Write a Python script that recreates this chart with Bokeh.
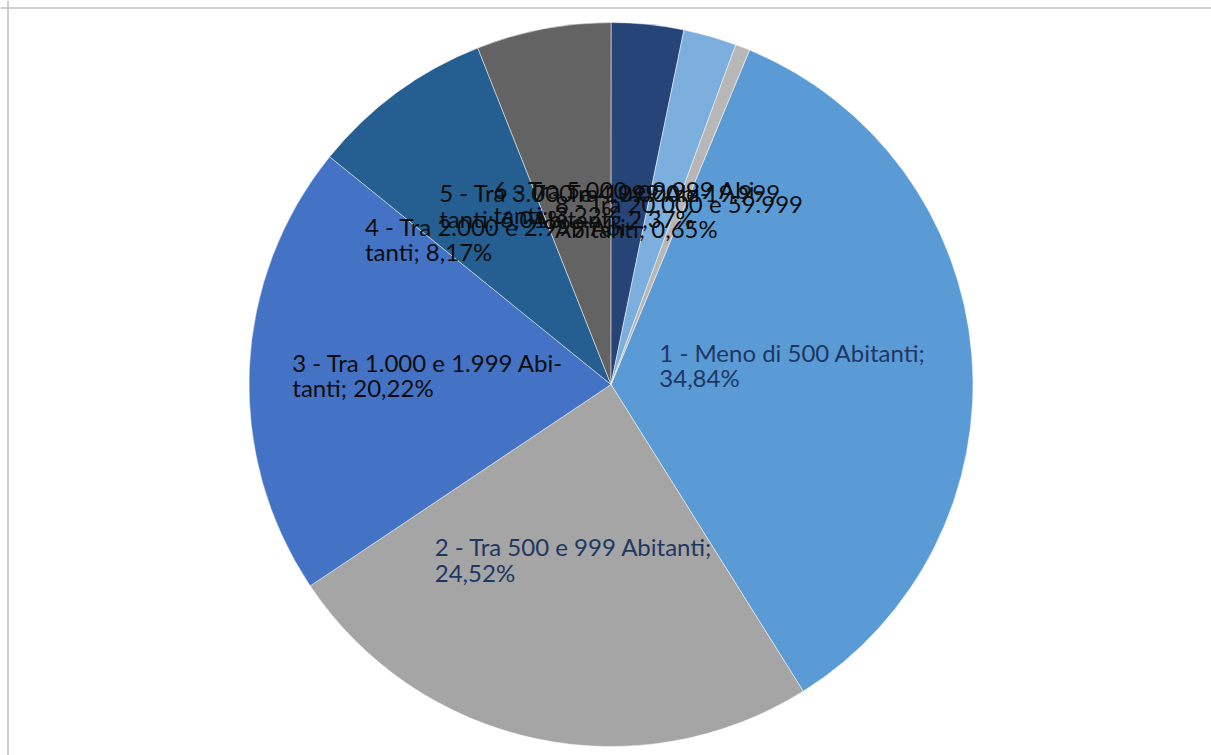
import math
from bokeh.plotting import figure
from bokeh.models import ColumnDataSource, Span
from bokeh.core.properties import value
from bokeh.embed import file_html
from bokeh.resources import INLINE

# ---- data ----
categories = [
    "1 - Meno di 500 Abitanti",
    "2 - Tra 500 e 999 Abitanti",
    "3 - Tra 1.000 e 1.999 Abitanti",
    "4 - Tra 2.000 e 2.999 Abitanti",
    "5 - Tra 3.000 e 4.999 Abitanti",
    "6 - Tra 5.000 e 9.999 Abitanti",
    "7 - Tra 10.000 e 19.999 Abitanti",
    "8 - Tra 20.000 e 59.999 Abitanti",
]
values = [34.84, 24.52, 20.22, 8.17, 6.01, 3.22, 2.37, 0.65]

# ---- style / layout ----
colors = ["#5B9BD5", "#A5A5A5", "#4472C4", "#255E91",
          "#636363", "#264478", "#7CAFDD", "#B7B7B7"]
label_colors = ["#1F3763", "#1F3763", "#0D0D0D", "#0D0D0D",
                "#0D0D0D", "#0D0D0D", "#0D0D0D", "#0D0D0D"]
wrap_style = ["semi", "semi", "hyph", "hyph", "hyph", "hyph", "word", "word"]
# small pixel nudges of the label boxes (screen px: right, down)
label_nudge_x = [-12, -3, 0, -4, -6, -6, -10, -4]
label_nudge_y = [-4, -9, -1, 6, 6, 5, 2, 7]
first_slice_deg = 22.5
FONT = "Lato"
FS = 24
LINE_H = 0.87
LABEL_R = 0.52

W, H = 1211, 755
cx, cy, R = 610.5, H - 384.0, 362.0

# approximate Lato advance widths (em)
CW = {' ': 0.193, '-': 0.33, '.': 0.22, ',': 0.22, ';': 0.24, '%': 0.78,
      'M': 0.88, 'A': 0.68, 'T': 0.57, 'b': 0.56, 'd': 0.56, 'e': 0.52,
      'n': 0.55, 'o': 0.56, 'i': 0.24, 't': 0.34, 'a': 0.49, 'r': 0.35}


def text_w(s):
    return sum(CW.get(c, 0.58) for c in s) * FS


def fmt(v):
    return ("%.2f" % v).replace(".", ",") + "%"


def wrap(cat, v, style):
    if style == "semi":
        return [cat + ";", fmt(v)]
    if style == "hyph":
        return [cat.replace("Abitanti", "Abi-"), "tanti; " + fmt(v)]
    return [cat.replace(" Abitanti", ""), "Abitanti; " + fmt(v)]


total = sum(values)
starts, ends, lx, ly, texts = [], [], [], [], []
acc = math.radians(first_slice_deg)
for c, v, ws, nx, ny in zip(categories, values, wrap_style, label_nudge_x, label_nudge_y):
    a0 = acc
    a1 = acc + 2 * math.pi * v / total
    acc = a1
    starts.append(math.pi / 2 - a0)
    ends.append(math.pi / 2 - a1)
    mid = (a0 + a1) / 2
    lines = wrap(c, v, ws)
    bw = max(text_w(s) for s in lines)
    mx = cx + LABEL_R * R * math.sin(mid)
    my = cy + LABEL_R * R * math.cos(mid)
    lx.append(mx - bw / 2 + nx)
    ly.append(my - ny)
    texts.append("\n".join(lines))

src = ColumnDataSource(dict(start=starts, end=ends, color=colors,
                            x=lx, y=ly, text=texts, tcolor=label_colors))

p = figure(width=W, height=H, x_range=(0, W), y_range=(0, H),
           output_backend="svg", toolbar_location=None, min_border=0,
           x_axis_type=None, y_axis_type=None)
p.grid.visible = False
p.outline_line_color = None
p.background_fill_color = "white"
p.border_fill_color = "white"

p.wedge(x=cx, y=cy, radius=R, start_angle="start", end_angle="end",
        direction="clock", fill_color="color", line_color="white",
        line_width=0.6, line_alpha=0.8, source=src)

p.text(x="x", y="y", text="text", source=src, text_color="tcolor",
       text_font=value(FONT), text_font_size="%dpx" % FS,
       text_align="left", text_baseline="middle", text_line_height=LINE_H)

p.add_layout(Span(location=7.5, dimension="height", line_color="#BFBFBF", line_width=1.5))
p.add_layout(Span(location=H - 7.5, dimension="width", line_color="#BFBFBF", line_width=1.5))

open("out.html", "w").write(file_html(p, INLINE))
